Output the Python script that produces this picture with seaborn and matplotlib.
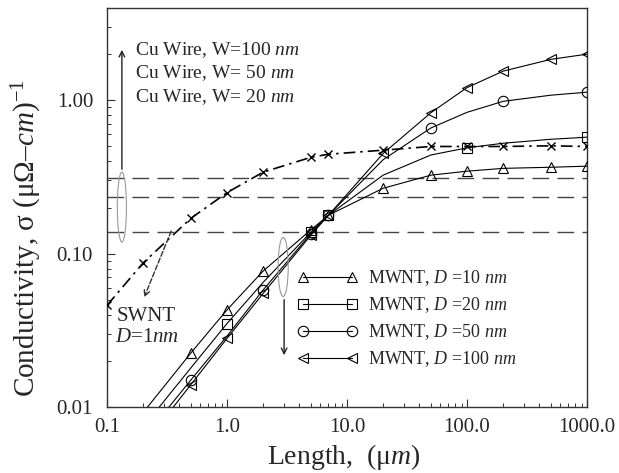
import numpy as np
import pandas as pd
import matplotlib
matplotlib.use("Agg")
import matplotlib.pyplot as plt
from matplotlib.patches import Ellipse
import seaborn as sns

# ---------------- data ----------------
length_mwnt = [0.2, 0.5, 1, 2, 5, 7, 20, 50, 100, 200, 500, 1000]
mwnt_d10 = [0.0092, 0.0225, 0.043, 0.077, 0.143, 0.178, 0.267, 0.325, 0.345, 0.36, 0.366, 0.372]
mwnt_d20 = [0.0074, 0.018, 0.035, 0.065, 0.138, 0.178, 0.325, 0.44, 0.49, 0.525, 0.557, 0.575]
mwnt_d50 = [0.0062, 0.015, 0.029, 0.058, 0.135, 0.178, 0.41, 0.66, 0.835, 0.985, 1.08, 1.13]
mwnt_d100 = [0.0056, 0.014, 0.028, 0.055, 0.132, 0.178, 0.45, 0.83, 1.21, 1.55, 1.85, 2.0]
mwnt_labels = [r"MWNT, $D$ =10 $nm$", r"MWNT, $D$ =20 $nm$",
               r"MWNT, $D$ =50 $nm$", r"MWNT, $D$ =100 $nm$"]

length_swnt = [0.1, 0.2, 0.5, 1, 2, 5, 7, 20, 50, 100, 200, 500, 1000]
swnt = [0.046, 0.087, 0.17, 0.25, 0.34, 0.425, 0.445, 0.473, 0.5, 0.5, 0.5, 0.505, 0.5]

cu_wire = [0.31, 0.233, 0.138]
cu_labels = [r"Cu Wire, W=100 $nm$", r"Cu Wire, W= 50 $nm$", r"Cu Wire, W= 20 $nm$"]

x_ticks = [0.1, 1, 10, 100, 1000]
x_ticklabels = ["0.1", "1.0", "10.0", "100.0", "1000.0"]
y_ticks = [0.01, 0.1, 1]
y_ticklabels = ["0.01", "0.10", "1.00"]

# ---------------- style ----------------
sns.set_style("ticks")
plt.rcParams["font.family"] = ["Liberation Serif", "DejaVu Serif"]
plt.rcParams["mathtext.fontset"] = "custom"
plt.rcParams["mathtext.rm"] = "Liberation Serif"
plt.rcParams["mathtext.it"] = "Liberation Serif:italic"
plt.rcParams["mathtext.bf"] = "Liberation Serif:bold"

fig = plt.figure(figsize=(6.19, 4.73), dpi=100)
ax = fig.add_axes([107 / 619, 1 - 407 / 473, 480 / 619, 399 / 473])

# Cu wire dashed horizontal lines
for v in cu_wire:
    ax.axhline(v, color="#444444", lw=1.0, ls=(0, (12, 6)), zorder=1)

# SWNT dash-dot
df_s = pd.DataFrame({"L": length_swnt, "s": swnt})
sns.lineplot(data=df_s, x="L", y="s", ax=ax, color="black", lw=1.2,
             ls=(0, (7, 3, 1.5, 3)), marker="x", markersize=6, mew=1.0,
             markeredgecolor="black", markerfacecolor="black",
             sort=False, estimator=None, zorder=3)

series = [mwnt_d10, mwnt_d20, mwnt_d50, mwnt_d100]
markers = ["^", "s", "o", "<"]
mevery = [list(range(1, 12)), [2, 4, 5, 8, 11], [1, 3, 4, 5, 7, 9, 11], list(range(1, 12))]
handles = []
for vals, mk, me, lab in zip(series, markers, mevery, mwnt_labels):
    df = pd.DataFrame({"L": length_mwnt, "s": vals})
    n_before = len(ax.lines)
    sns.lineplot(data=df, x="L", y="s", ax=ax, color="black", lw=0.8,
                 marker=mk, markersize=7.5, markerfacecolor="none",
                 markeredgecolor="black", mew=0.8, markevery=me,
                 sort=False, estimator=None, label=lab, zorder=4)
    handles.append(ax.lines[n_before])

ax.set_xscale("log")
ax.set_yscale("log")
ax.set_xlim(0.1, 1000)
ax.set_ylim(0.01, 4.0)

ax.set_xticks(x_ticks)
ax.set_xticklabels(x_ticklabels)
ax.set_yticks(y_ticks)
ax.set_yticklabels(y_ticklabels)
ax.tick_params(axis="both", which="major", direction="in", length=6, width=0.8,
               labelsize=15, top=False, right=False, color="#333333")
ax.tick_params(axis="x", which="major", pad=8)
ax.tick_params(axis="y", which="major", pad=10)
ax.tick_params(axis="both", which="minor", direction="in", length=3, width=0.7,
               top=False, right=False, color="#333333")
for sp in ax.spines.values():
    sp.set_color("#333333")
    sp.set_linewidth(1.0)

ax.set_xlabel(r"Length,  (μ$m$)", fontsize=20)
ax.xaxis.set_label_coords(0.494, -0.088)
ax.set_ylabel(r"Conductivity, σ (μΩ–$cm$)$^{-1}$", fontsize=21)
ax.yaxis.set_label_coords(-0.132, 0.424)

leg = ax.legend(handles=handles, labels=mwnt_labels, loc="upper left",
                bbox_to_anchor=(0.398, 0.348), frameon=False, fontsize=13,
                numpoints=2, handlelength=3.3, handletextpad=0.6,
                labelspacing=0.4, borderpad=0, borderaxespad=0)

# Cu wire annotation
cu_y = [0.895, 0.837, 0.777]
for lab, yy in zip(cu_labels, cu_y):
    ax.text(0.058, yy, lab, transform=ax.transAxes, fontsize=14, va="center", ha="left")

ax.add_patch(Ellipse((0.031, 0.501), 0.019, 0.175, transform=ax.transAxes,
                     fill=False, edgecolor="#999999", lw=0.8, zorder=5))
ax.annotate("", xy=(0.031, 0.902), xytext=(0.031, 0.589), xycoords="axes fraction",
            arrowprops=dict(arrowstyle="->", color="#222222", lw=1.0))

ax.add_patch(Ellipse((0.367, 0.351), 0.021, 0.148, transform=ax.transAxes,
                     fill=False, edgecolor="#999999", lw=0.8, zorder=5))
ax.annotate("", xy=(0.369, 0.123), xytext=(0.369, 0.276), xycoords="axes fraction",
            arrowprops=dict(arrowstyle="->", color="#222222", lw=1.0))

# SWNT annotation
ax.annotate("", xy=(0.2, 0.05), xytext=(0.35, 0.146),
            arrowprops=dict(arrowstyle="->", color="#333333", lw=1.0, ls="--"))
ax.text(0.021, 0.228, "SWNT", transform=ax.transAxes, fontsize=15, va="center", ha="left")
ax.text(0.017, 0.173, r"$D$=1$nm$", transform=ax.transAxes, fontsize=15, va="center", ha="left")

fig.savefig("out.png", dpi=100)
